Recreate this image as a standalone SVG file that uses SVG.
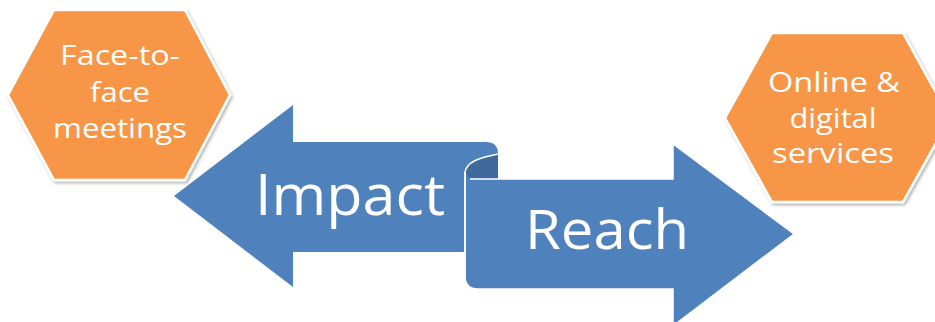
<svg xmlns="http://www.w3.org/2000/svg" width="935" height="322" viewBox="0 0 935 322">
<defs>
<filter id="sh" x="-10%" y="-10%" width="125%" height="125%">
<feDropShadow dx="1.5" dy="2" stdDeviation="1.8" flood-color="#000" flood-opacity="0.3"/>
</filter>
<style>
.hex{fill:#F79646;stroke:#FFFFFF;stroke-width:2.5;filter:url(#sh)}
.blue{fill:#4F81BD}
.fold{fill:#3F6A9C}
.ht{font-family:"Open Sans","Liberation Sans",sans-serif;font-size:28px;fill:#FFFFFF;text-anchor:middle}
.bt{font-family:"Open Sans","Liberation Sans",sans-serif;fill:#FFFFFF}
</style>
</defs>
<rect width="935" height="322" fill="#FFFFFF"/>

<g id="connectors">
<g id="impact-arrow">
<path class="blue" d="M174,196 L293,105 L293,142 L486,142 Q498,142 498,154 L498,252 L293,252 L293,287 Z"/>
<path class="fold" d="M465,172 C467,162 478,158 498,154 L498,179 L465,179 Z"/>
<text class="bt" x="255" y="215" font-size="57" textLength="190" lengthAdjust="spacingAndGlyphs">Impact</text>
</g>
<g id="reach-arrow">
<path class="blue" stroke="#FFFFFF" stroke-width="1.5" d="M465,172 L465,276 Q465,289 478,289 L673,289 L673,326 L794,234 L673,144 L673,179 L470,179"/>
<path class="blue" d="M466,173 L466,280 L500,280 L500,180 L470,180 Z"/>
<path fill="none" stroke="#FFFFFF" stroke-width="1.5" d="M465,290 L465,172 C467,162 478,158 498,154"/>
<text class="bt" x="525" y="249" font-size="55" textLength="164" lengthAdjust="spacingAndGlyphs">Reach</text>
</g>
</g>

<g id="face-to-face">
<polygon class="hex" points="54,10 185,10 230,95 185,180 54,180 8,95"/>
<text class="ht" x="120" y="65" textLength="120" lengthAdjust="spacingAndGlyphs">Face-to-</text>
<text class="ht" x="120" y="102" textLength="60" lengthAdjust="spacingAndGlyphs">face</text>
<text class="ht" x="120" y="138" textLength="134" lengthAdjust="spacingAndGlyphs">meetings</text>
</g>

<g id="online-digital">
<polygon class="hex" points="772,33 903,33 950,118 903,202 772,202 725,118"/>
<text class="ht" x="834" y="92" textLength="132" lengthAdjust="spacingAndGlyphs">Online &amp;</text>
<text class="ht" x="833" y="128" textLength="87" lengthAdjust="spacingAndGlyphs">digital</text>
<text class="ht" x="833" y="163" textLength="122" lengthAdjust="spacingAndGlyphs">services</text>
</g>
</svg>
